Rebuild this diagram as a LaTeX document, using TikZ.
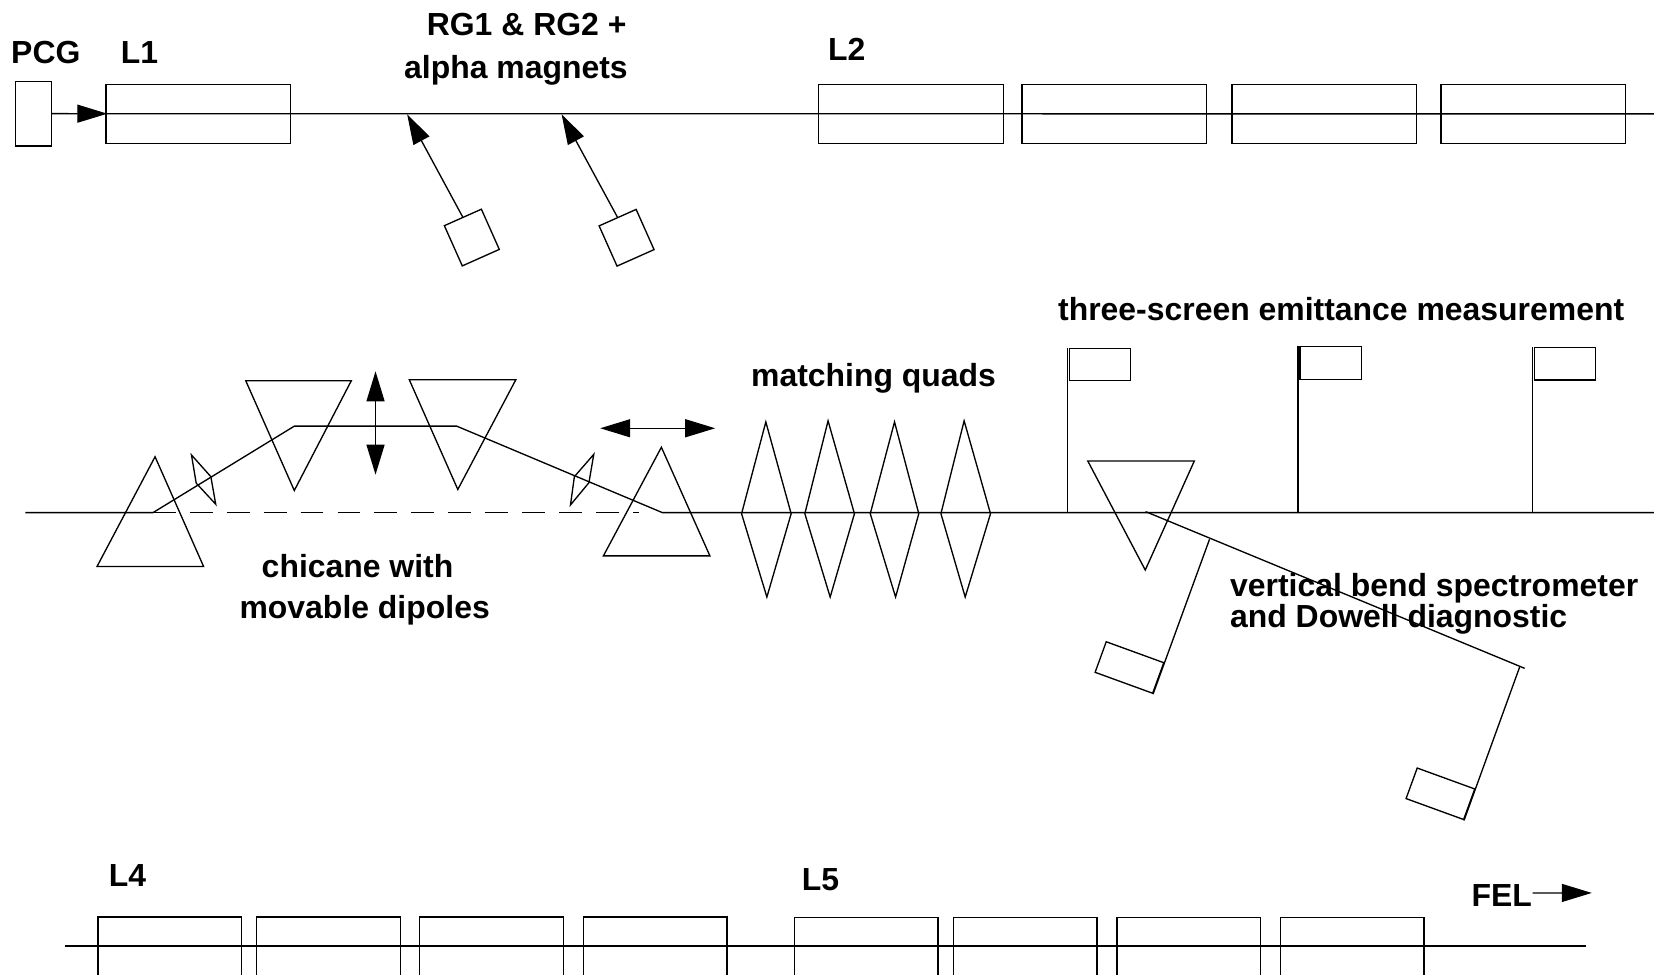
\documentclass[tikz,border=0pt]{standalone}
\usepackage{fontspec}
\setmainfont{Liberation Sans}
\usetikzlibrary{arrows.meta}
\begin{document}
\begin{tikzpicture}[x=0.010548cm,y=-0.010548cm,line width=0.38pt,
  lab/.style={font=\fontsize{9.08}{10}\selectfont\bfseries,inner sep=0pt,anchor=base west},
  linac/.style={draw,inner sep=0pt,minimum width=18.46mm,minimum height=5.9mm},
  gunbox/.style={draw,inner sep=0pt,minimum width=3.6mm,minimum height=6.45mm},
  linacb/.style={draw,inner sep=0pt,minimum width=14.35mm,minimum height=6.33mm},
  rgbox/.style={draw,inner sep=0pt,minimum width=4.05mm,minimum height=4.4mm,rotate=24},
  screen/.style={draw,inner sep=0pt,minimum width=6.12mm,minimum height=3.25mm},
  dump/.style={screen,rotate=-20},
  bigtip/.style={-{Stealth[length=3mm,width=1.8mm,inset=0pt]}},
  bothtip/.style={{Stealth[length=3mm,width=1.8mm,inset=0pt]}-{Stealth[length=3mm,width=1.8mm,inset=0pt]}},
]
\useasboundingbox (0,0) rectangle (1568,924.3);
\clip (0,0) rectangle (1568,924.3);

% injector line
\node[gunbox] (pcg) at (31.75,107.75) {};
\node[linac] (l1) at (188,107.8) {};
\node[linac] (l2a) at (863.5,107.8) {};
\node[linac] (l2b) at (1056.5,107.8) {};
\node[linac] (l2c) at (1255.5,107.8) {};
\node[linac] (l2d) at (1453.5,107.8) {};
\coordinate (topend) at (1568,108);
\coordinate (rgin1) at (386,108.4);
\coordinate (rgin2) at (532.4,108.4);
\draw (l1.west) -- (topend);
\draw[bigtip,shorten >=-0.2mm] (pcg.east) -- (l1.west);

\node[rgbox] (rg1) at (447.3,225.2) {};
\node[rgbox] (rg2) at (594,225.4) {};
\draw[bigtip] (rg1.north) -- (rgin1);
\draw[bigtip] (rg2.north) -- (rgin2);

\node[lab] (lpcg) at (10,60.5) {PCG};
\node[lab] (ll1) at (114,60.5) {L1};
\node[lab] (lrg) at (404,34) {RG1 \& RG2 +};
\node[lab] (lalpha) at (382.5,74) {alpha magnets};
\node[lab] (ll2) at (784.5,57.5) {L2};

% chicane
\coordinate (beamin) at (24,486);
\coordinate (chi1) at (145,486);
\coordinate (chi2) at (279,404);
\coordinate (chi3) at (433,404);
\coordinate (chi4) at (628,486);
\coordinate (dashend) at (606,486);
\coordinate (beamout) at (1568,486);
\draw (beamin) -- (chi1) -- (chi2) -- (chi3) -- (chi4) -- (beamout);
\draw[dash pattern=on 6.5pt off 4pt] (chi1) -- (dashend);

\draw (147,433) -- (193,537) -- (92,537) -- cycle;
\draw (233,361) -- (333,361) -- (279,465) -- cycle;
\draw (388,360) -- (489,360) -- (434,464) -- cycle;
\draw (627,424) -- (673,527) -- (572,527) -- cycle;

\draw (181.5,431.3) -- (199.9,451.9) -- (204.5,478) -- (186,458) -- cycle;
\draw (562.9,430.7) -- (544.5,451.9) -- (540.8,478.7) -- (558.3,457.6) -- cycle;

\coordinate (mova) at (356,352);
\coordinate (movb) at (356,450);
\coordinate (movc) at (569,406);
\coordinate (movd) at (678,406);
\draw[bothtip] (mova) -- (movb);
\draw[bothtip] (movc) -- (movd);

\node[lab] (lchic) at (247.5,547.2) {chicane with};
\node[lab] (lmov) at (226.5,586) {movable dipoles};

% matching quads
\draw (726,400) -- (750,487) -- (727,566) -- (703,487) -- cycle;
\draw (785,399) -- (810,487) -- (787,566) -- (763,487) -- cycle;
\draw (848,400) -- (871,487) -- (849,566) -- (825,487) -- cycle;
\draw (914,399) -- (939,487) -- (915,566) -- (892,487) -- cycle;
\node[lab] (lquads) at (711.5,366) {matching quads};

% screens
\coordinate (pole1) at (1012,486);
\coordinate (pole2) at (1230.6,486);
\coordinate (pole3) at (1453,486);
\node[screen] (scr1) at (1042.7,345.5) {};
\node[screen] (scr2) at (1261.5,344.2) {};
\node[screen] (scr3) at (1483.8,344.7) {};
\draw (pole1) -- (pole1 |- scr1.north);
\draw (pole2) -- (pole2 |- scr2.north);
\draw (pole3) -- (pole3 |- scr3.north);
\node[lab] (lscr) at (1002.5,303.5) {three-screen emittance measurement};

% spectrometer
\draw (1031.2,437) -- (1132.2,437) -- (1085.7,540.4) -- cycle;
\coordinate (bend0) at (1086,485);
\coordinate (bend1) at (1146.6,511.3);
\coordinate (bend2) at (1440.6,632.4);
\coordinate (bend3) at (1445.4,633.6);
\draw (bend0) -- (bend3);
\node[dump] (dmp1) at (1070.7,632.8) {};
\node[dump] (dmp2) at (1365.5,752.5) {};
\draw (bend1) -- (dmp1.south east);
\draw (bend2) -- (dmp2.south east);
\node[lab] (lvert) at (1165.5,565.3) {vertical bend spectrometer};
\node[lab] (ldow) at (1165.5,595.3) {and Dowell diagnostic};

% undulator line
\node[linacb] (l4a) at (161,899.3) {};
\node[linacb] (l4b) at (311.5,899.3) {};
\node[linacb] (l4c) at (466,899.3) {};
\node[linacb] (l4d) at (621,899.3) {};
\node[linacb] (l5a) at (821,900) {};
\node[linacb] (l5b) at (972,900) {};
\node[linacb] (l5c) at (1127,900) {};
\node[linacb] (l5d) at (1282,900) {};
\coordinate (botin) at (62,896.8);
\coordinate (botout) at (1503.5,896.8);
\draw (botin) -- (botout);

\node[lab] (ll4) at (102.5,840.5) {L4};
\node[lab] (ll5) at (759.5,844.5) {L5};
\node[lab] (lfel) at (1394.5,859.3) {FEL};
\coordinate (felend) at (1509,846.5);
\draw[bigtip] ([yshift=0.25mm]lfel.east) -- (felend);
\end{tikzpicture}
\end{document}
